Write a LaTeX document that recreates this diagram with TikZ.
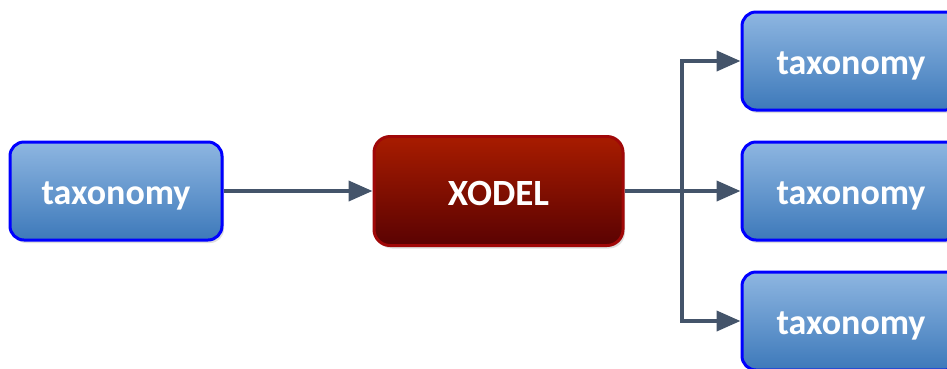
\documentclass[tikz,border=0pt]{standalone}
\usepackage{fontspec}
\setmainfont{Carlito}
\usetikzlibrary{arrows.meta,shadows,positioning}
\definecolor{linkgray}{HTML}{44546A}
\definecolor{bluetop}{HTML}{8EB6E1}
\definecolor{bluebot}{HTML}{3D79BA}
\definecolor{redtop}{HTML}{A81C00}
\definecolor{redbot}{HTML}{5A0202}
\definecolor{redrim}{HTML}{A00808}
\tikzset{
  taxbox/.style={draw=blue, line width=3pt, rounded corners=14pt,
    top color=bluetop, bottom color=bluebot, minimum width=212pt,
    minimum height=98pt, text=white, font=\fontsize{36}{40}\selectfont\bfseries,
    text height=32pt, text depth=6pt,
    drop shadow={opacity=0.25, shadow xshift=2pt, shadow yshift=-3pt}},
  modelbox/.style={draw=redrim, line width=3pt, rounded corners=16pt,
    top color=redtop, bottom color=redbot, minimum width=249pt,
    minimum height=109pt, text=white, font=\fontsize{37}{40}\selectfont\bfseries,
    text height=32pt, text depth=4pt,
    drop shadow={opacity=0.25, shadow xshift=2pt, shadow yshift=-3pt}},
  link/.style={draw=linkgray, line width=4pt,
    -{Triangle[length=24pt,width=20pt]}},
  trunk/.style={draw=linkgray, line width=4pt}
}
\begin{document}
\begin{tikzpicture}[x=1pt,y=1pt]
\useasboundingbox (0,0) rectangle (947,-368);
\node[taxbox] (src) at (116,-191) {taxonomy};
\node[modelbox] (model) at (498.5,-191) {XODEL};
\node[taxbox, minimum width=218pt] (outa) at (851,-61) {taxonomy};
\node[taxbox, minimum width=218pt] (outb) at (851,-191) {taxonomy};
\node[taxbox, minimum width=218pt] (outc) at (851,-321) {taxonomy};
\coordinate (fork) at (682,-191);
\draw[link] (src.east) -- (model.west);
\draw[trunk] (model.east) -- (fork);
\draw[link] (fork) |- (outa.west);
\draw[link] (fork) -- (outb.west);
\draw[link] (fork) |- (outc.west);
\end{tikzpicture}
\end{document}
